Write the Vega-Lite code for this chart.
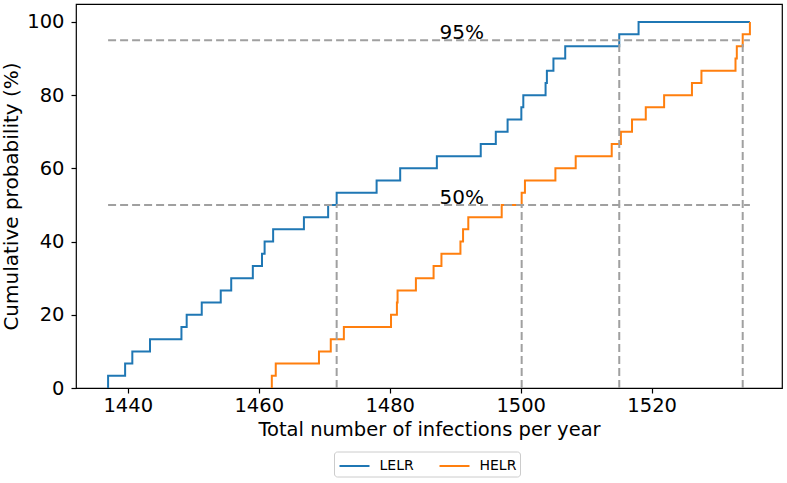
{
  "$schema": "https://vega.github.io/schema/vega-lite/v6.json",
  "width": 706,
  "height": 384,
  "autosize": {"type": "none"},
  "padding": {"left": 76, "top": 4, "right": 5, "bottom": 95},
  "background": "white",
  "config": {
    "font": "DejaVu Sans",
    "view": {"stroke": "black", "strokeWidth": 1.2},
    "axis": {
      "domain": false,
      "grid": false,
      "tickColor": "black",
      "tickSize": 5,
      "tickWidth": 1.2,
      "labelColor": "black",
      "labelFont": "DejaVu Sans",
      "labelFontSize": 19.5,
      "titleColor": "black",
      "titleFont": "DejaVu Sans",
      "titleFontSize": 19.5,
      "titleFontWeight": "normal"
    },
    "legend": {
      "orient": "none",
      "legendX": 258,
      "legendY": 447.5,
      "direction": "horizontal",
      "symbolType": "M-1.5,0H1.5",
      "symbolSize": 400,
      "symbolOffset": 6,
      "symbolStrokeWidth": 2,
      "symbolFillColor": "transparent",
      "labelFont": "DejaVu Sans",
      "labelFontSize": 14,
      "labelColor": "black",
      "labelOffset": 14,
      "columnPadding": 21,
      "padding": 3.5,
      "strokeColor": "#cccccc",
      "fillColor": "white",
      "cornerRadius": 3
    }
  },
  "datasets": {
    "ecdf": [
      {"series": "LELR", "k": 0, "infections": 1437.0, "prob": 0},
      {"series": "LELR", "k": 1, "infections": 1437.0, "prob": 3.333},
      {"series": "LELR", "k": 2, "infections": 1439.6, "prob": 6.667},
      {"series": "LELR", "k": 3, "infections": 1440.7, "prob": 10},
      {"series": "LELR", "k": 4, "infections": 1443.4, "prob": 13.333},
      {"series": "LELR", "k": 5, "infections": 1448.2, "prob": 16.667},
      {"series": "LELR", "k": 6, "infections": 1449.0, "prob": 20},
      {"series": "LELR", "k": 7, "infections": 1451.3, "prob": 23.333},
      {"series": "LELR", "k": 8, "infections": 1454.2, "prob": 26.667},
      {"series": "LELR", "k": 9, "infections": 1455.8, "prob": 30},
      {"series": "LELR", "k": 10, "infections": 1459.1, "prob": 33.333},
      {"series": "LELR", "k": 11, "infections": 1460.5, "prob": 36.667},
      {"series": "LELR", "k": 12, "infections": 1460.9, "prob": 40},
      {"series": "LELR", "k": 13, "infections": 1462.2, "prob": 43.333},
      {"series": "LELR", "k": 14, "infections": 1466.9, "prob": 46.667},
      {"series": "LELR", "k": 15, "infections": 1470.6, "prob": 50},
      {"series": "LELR", "k": 16, "infections": 1471.9, "prob": 53.333},
      {"series": "LELR", "k": 17, "infections": 1478.0, "prob": 56.667},
      {"series": "LELR", "k": 18, "infections": 1481.6, "prob": 60},
      {"series": "LELR", "k": 19, "infections": 1487.2, "prob": 63.333},
      {"series": "LELR", "k": 20, "infections": 1493.9, "prob": 66.667},
      {"series": "LELR", "k": 21, "infections": 1496.2, "prob": 70},
      {"series": "LELR", "k": 22, "infections": 1498.0, "prob": 73.333},
      {"series": "LELR", "k": 23, "infections": 1500.1, "prob": 76.667},
      {"series": "LELR", "k": 24, "infections": 1500.4, "prob": 80},
      {"series": "LELR", "k": 25, "infections": 1503.8, "prob": 83.333},
      {"series": "LELR", "k": 26, "infections": 1504.0, "prob": 86.667},
      {"series": "LELR", "k": 27, "infections": 1505.0, "prob": 90},
      {"series": "LELR", "k": 28, "infections": 1506.8, "prob": 93.333},
      {"series": "LELR", "k": 29, "infections": 1515.05, "prob": 96.667},
      {"series": "LELR", "k": 30, "infections": 1518.0, "prob": 100},
      {"series": "LELR", "k": 31, "infections": 1535.0, "prob": 100},
      {"series": "HELR", "k": 0, "infections": 1462.0, "prob": 0},
      {"series": "HELR", "k": 1, "infections": 1462.0, "prob": 3.333},
      {"series": "HELR", "k": 2, "infections": 1462.6, "prob": 6.667},
      {"series": "HELR", "k": 3, "infections": 1469.2, "prob": 10},
      {"series": "HELR", "k": 4, "infections": 1471.0, "prob": 13.333},
      {"series": "HELR", "k": 5, "infections": 1473.0, "prob": 16.667},
      {"series": "HELR", "k": 6, "infections": 1480.2, "prob": 20},
      {"series": "HELR", "k": 7, "infections": 1481.1, "prob": 23.333},
      {"series": "HELR", "k": 8, "infections": 1481.2, "prob": 26.667},
      {"series": "HELR", "k": 9, "infections": 1484.0, "prob": 30},
      {"series": "HELR", "k": 10, "infections": 1486.7, "prob": 33.333},
      {"series": "HELR", "k": 11, "infections": 1487.9, "prob": 36.667},
      {"series": "HELR", "k": 12, "infections": 1490.8, "prob": 40},
      {"series": "HELR", "k": 13, "infections": 1491.2, "prob": 43.333},
      {"series": "HELR", "k": 14, "infections": 1492.0, "prob": 46.667},
      {"series": "HELR", "k": 15, "infections": 1497.1, "prob": 50},
      {"series": "HELR", "k": 16, "infections": 1500.15, "prob": 53.333},
      {"series": "HELR", "k": 17, "infections": 1500.65, "prob": 56.667},
      {"series": "HELR", "k": 18, "infections": 1505.3, "prob": 60},
      {"series": "HELR", "k": 19, "infections": 1508.4, "prob": 63.333},
      {"series": "HELR", "k": 20, "infections": 1513.9, "prob": 66.667},
      {"series": "HELR", "k": 21, "infections": 1515.3, "prob": 70},
      {"series": "HELR", "k": 22, "infections": 1517.0, "prob": 73.333},
      {"series": "HELR", "k": 23, "infections": 1519.1, "prob": 76.667},
      {"series": "HELR", "k": 24, "infections": 1521.9, "prob": 80},
      {"series": "HELR", "k": 25, "infections": 1526.15, "prob": 83.333},
      {"series": "HELR", "k": 26, "infections": 1527.6, "prob": 86.667},
      {"series": "HELR", "k": 27, "infections": 1532.8, "prob": 90},
      {"series": "HELR", "k": 28, "infections": 1533.0, "prob": 93.333},
      {"series": "HELR", "k": 29, "infections": 1533.9, "prob": 96.667},
      {"series": "HELR", "k": 30, "infections": 1535.0, "prob": 100}
    ],
    "guides": [
      {"x": 1437.0, "x2": 1535.0, "y": 95, "y2": 95},
      {"x": 1437.0, "x2": 1535.0, "y": 50, "y2": 50},
      {"x": 1471.9, "x2": 1471.9, "y": 0, "y2": 50},
      {"x": 1500.15, "x2": 1500.15, "y": 0, "y2": 50},
      {"x": 1515.05, "x2": 1515.05, "y": 0, "y2": 95},
      {"x": 1533.9, "x2": 1533.9, "y": 0, "y2": 95}
    ],
    "levels": [
      {"label": "95%", "x": 1491.0, "y": 95},
      {"label": "50%", "x": 1491.0, "y": 50}
    ]
  },
  "layer": [
    {
      "data": {"name": "ecdf"},
      "mark": {"type": "line", "interpolate": "step-after", "strokeWidth": 2, "clip": true},
      "encoding": {
        "x": {
          "field": "infections",
          "type": "quantitative",
          "scale": {"domain": [1432.1, 1539.9], "nice": false, "zero": false},
          "axis": {
            "title": "Total number of infections per year",
            "values": [1440, 1460, 1480, 1500, 1520],
            "format": "d",
            "labelPadding": 3,
            "titlePadding": 6
          }
        },
        "y": {
          "field": "prob",
          "type": "quantitative",
          "scale": {"domain": [0, 104.9], "nice": false},
          "axis": {
            "title": "Cumulative probability (%)",
            "titleFontSize": 20,
            "values": [0, 20, 40, 60, 80, 100],
            "labelPadding": 7,
            "titlePadding": 5
          }
        },
        "order": {"field": "k", "type": "quantitative"},
        "color": {
          "field": "series",
          "type": "nominal",
          "scale": {"domain": ["LELR", "HELR"], "range": ["#1f77b4", "#ff7f0e"]},
          "legend": {"title": null}
        }
      }
    },
    {
      "data": {"name": "guides"},
      "mark": {"type": "rule", "color": "#a0a0a0", "strokeWidth": 2, "strokeDash": [8, 4]},
      "encoding": {
        "x": {"field": "x", "type": "quantitative"},
        "x2": {"field": "x2"},
        "y": {"field": "y", "type": "quantitative"},
        "y2": {"field": "y2"}
      }
    },
    {
      "data": {"name": "levels"},
      "mark": {"type": "text", "fontSize": 20, "color": "black", "align": "center", "baseline": "alphabetic", "dy": -1},
      "encoding": {
        "x": {"field": "x", "type": "quantitative"},
        "y": {"field": "y", "type": "quantitative"},
        "text": {"field": "label"}
      }
    }
  ]
}
